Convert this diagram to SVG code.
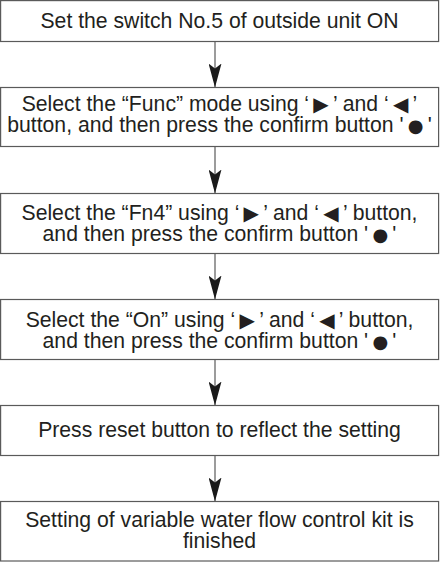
<svg xmlns="http://www.w3.org/2000/svg" width="440" height="562" viewBox="0 0 440 562">
  <style>
    .box { fill: #ffffff; stroke: #5a5a5a; stroke-width: 1.2; }
    .txt { font-family: "Liberation Sans", Arial, sans-serif; font-size: 21.2px; fill: #231f20; text-anchor: middle; }
    .sym { font-family: "DejaVu Sans", sans-serif; font-size: 20px; }
    .dot { font-family: "DejaVu Sans", sans-serif; font-size: 18px; }
    .conn { stroke: #5a5a5a; stroke-width: 1.2; fill: none; marker-end: url(#head); }
  </style>
  <defs>
    <marker id="head" viewBox="0 0 24 13" refX="24" refY="6.5" markerWidth="24" markerHeight="13" markerUnits="userSpaceOnUse" orient="auto">
      <path d="M24,6.5 L0,0 L5,6.5 L0,13 Z" fill="#1a1a1a"/>
    </marker>
  </defs>
  <rect width="440" height="562" fill="#ffffff"/>

  <g id="connectors">
    <line class="conn" x1="215" y1="41.5" x2="215" y2="87.5"/>
    <line class="conn" x1="215" y1="146.5" x2="215" y2="193.5"/>
    <line class="conn" x1="215" y1="253.5" x2="215" y2="299.5"/>
    <line class="conn" x1="215" y1="359.5" x2="215" y2="405.5"/>
    <line class="conn" x1="215" y1="455.5" x2="215" y2="501.5"/>
  </g>

  <g id="step1">
    <rect class="box" x="0.6" y="0.6" width="438" height="40.9"/>
    <text class="txt" x="219.5" y="27.5">Set the switch No.5 of outside unit ON</text>
  </g>

  <g id="step2">
    <rect class="box" x="0.6" y="87.5" width="438" height="59"/>
    <text class="txt"><tspan x="219.5" y="111">Select the “Func” mode using ‘&#8201;<tspan class="sym">▶</tspan>&#8201;’ and ‘&#8201;<tspan class="sym">◀</tspan>&#8201;’</tspan><tspan x="219.5" y="131.5">button, and then press the confirm button '&#8201;<tspan class="dot">●</tspan>&#8201;'</tspan></text>
  </g>

  <g id="step3">
    <rect class="box" x="0.6" y="193.5" width="438" height="60"/>
    <text class="txt"><tspan x="219.5" y="219.5">Select the “Fn4” using ‘&#8201;<tspan class="sym">▶</tspan>&#8201;’ and ‘&#8201;<tspan class="sym">◀</tspan>&#8201;’ button,</tspan><tspan x="219.5" y="240.5">and then press the confirm button '&#8201;<tspan class="dot">●</tspan>&#8201;'</tspan></text>
  </g>

  <g id="step4">
    <rect class="box" x="0.6" y="299.5" width="438" height="60"/>
    <text class="txt"><tspan x="219.5" y="326.5">Select the “On” using ‘&#8201;<tspan class="sym">▶</tspan>&#8201;’ and ‘&#8201;<tspan class="sym">◀</tspan>&#8201;’ button,</tspan><tspan x="219.5" y="347.5">and then press the confirm button '&#8201;<tspan class="dot">●</tspan>&#8201;'</tspan></text>
  </g>

  <g id="step5">
    <rect class="box" x="0.6" y="405.5" width="438" height="50"/>
    <text class="txt" x="219.5" y="436.7">Press reset button to reflect the setting</text>
  </g>

  <g id="step6">
    <rect class="box" x="0.6" y="501.5" width="438" height="59.5"/>
    <text class="txt"><tspan x="219.5" y="526.7">Setting of variable water flow control kit is</tspan><tspan x="219.5" y="548.3">finished</tspan></text>
  </g>
</svg>
